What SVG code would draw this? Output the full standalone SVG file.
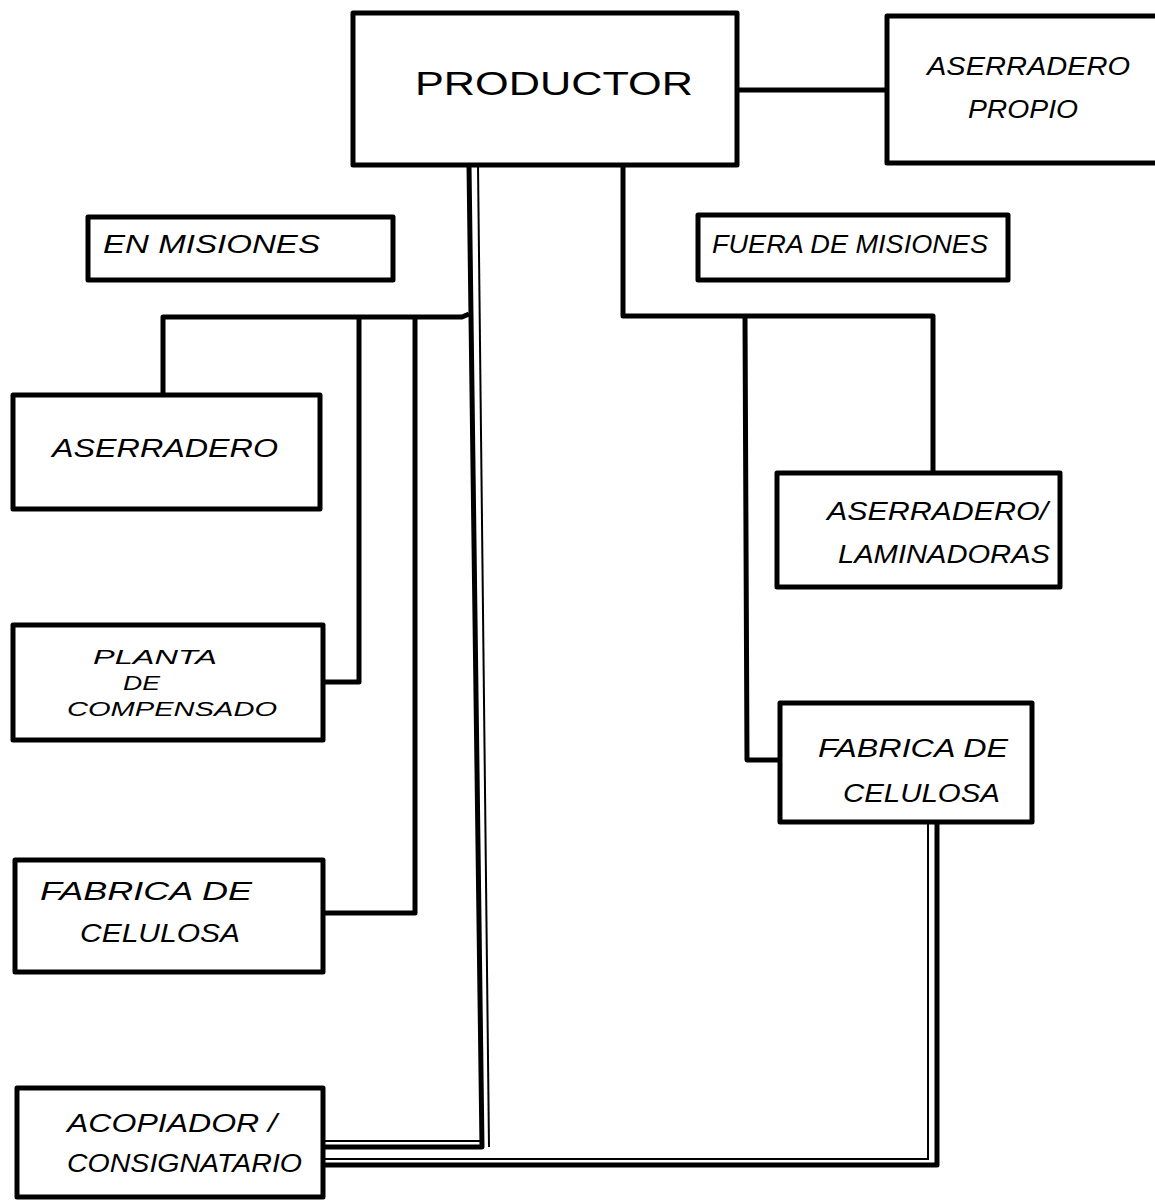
<svg xmlns="http://www.w3.org/2000/svg" width="1155" height="1202" viewBox="0 0 1155 1202">
<style>
.box{fill:#fff;stroke:#000;stroke-width:5;stroke-linejoin:round}
.lbl{font-family:"Liberation Sans",Arial,sans-serif;font-size:26px;fill:#000;font-style:italic}
.big{font-size:33px;font-style:normal}
.sm{font-size:21px}
.c{fill:none;stroke:#000;stroke-width:5;stroke-linejoin:round}
.ct{fill:none;stroke:#000;stroke-width:2}
</style>
<rect width="1155" height="1202" fill="#fff"/>
<g id="connectors">
  <path class="c" d="M737,90 L887,90"/>
  <path class="c" d="M469,165 L482,1147 L323,1147"/>
  <path class="ct" d="M478,165 L489,1147"/>
  <path class="ct" d="M323,1141 L480,1141"/>
  <path class="c" d="M163,395 L163,317 L462,317 L469,314"/>
  <path class="c" d="M359,317 L359,682 L323,682"/>
  <path class="c" d="M415,317 L415,913 L323,913"/>
  <path class="c" d="M623,165 L623,316 L933,316 L933,473"/>
  <path class="c" d="M745,316 L747,760 L780,760"/>
  <path class="c" d="M937,822 L937,1165 L323,1165"/>
  <path class="ct" d="M928,822 L928,1159 L323,1159"/>
</g>
<g id="productor">
  <rect class="box" x="353" y="13" width="384" height="152"/>
  <text class="lbl big" x="415" y="95" textLength="278" lengthAdjust="spacingAndGlyphs">PRODUCTOR</text>
</g>
<g id="aserradero-propio">
  <rect class="box" x="887" y="16" width="275" height="147"/>
  <text class="lbl" x="927" y="75" textLength="203" lengthAdjust="spacingAndGlyphs">ASERRADERO</text>
  <text class="lbl" x="968" y="118" textLength="110" lengthAdjust="spacingAndGlyphs">PROPIO</text>
</g>
<g id="en-misiones">
  <rect class="box" x="88" y="217" width="305" height="63"/>
  <text class="lbl" x="103" y="253" textLength="217" lengthAdjust="spacingAndGlyphs">EN MISIONES</text>
</g>
<g id="fuera-de-misiones">
  <rect class="box" x="698" y="215" width="310" height="65"/>
  <text class="lbl" x="712" y="253" textLength="276" lengthAdjust="spacingAndGlyphs">FUERA DE MISIONES</text>
</g>
<g id="aserradero">
  <rect class="box" x="13" y="395" width="307" height="114"/>
  <text class="lbl" x="52" y="457" textLength="226" lengthAdjust="spacingAndGlyphs">ASERRADERO</text>
</g>
<g id="planta-compensado">
  <rect class="box" x="13" y="625" width="310" height="115"/>
  <text class="lbl sm" x="93" y="664" textLength="124" lengthAdjust="spacingAndGlyphs">PLANTA</text>
  <text class="lbl sm" x="123" y="690" textLength="37" lengthAdjust="spacingAndGlyphs">DE</text>
  <text class="lbl sm" x="67" y="716" textLength="210" lengthAdjust="spacingAndGlyphs">COMPENSADO</text>
</g>
<g id="fabrica-celulosa-misiones">
  <rect class="box" x="15" y="860" width="308" height="112"/>
  <text class="lbl" x="40" y="900" textLength="212" lengthAdjust="spacingAndGlyphs">FABRICA DE</text>
  <text class="lbl" x="80" y="942" textLength="160" lengthAdjust="spacingAndGlyphs">CELULOSA</text>
</g>
<g id="acopiador">
  <rect class="box" x="17" y="1088" width="306" height="109"/>
  <text class="lbl" x="67" y="1132" textLength="210" lengthAdjust="spacingAndGlyphs">ACOPIADOR /</text>
  <text class="lbl" x="67" y="1172" textLength="235" lengthAdjust="spacingAndGlyphs">CONSIGNATARIO</text>
</g>
<g id="aserradero-laminadoras">
  <rect class="box" x="777" y="473" width="283" height="114"/>
  <text class="lbl" x="827" y="520" textLength="221" lengthAdjust="spacingAndGlyphs">ASERRADERO/</text>
  <text class="lbl" x="838" y="563" textLength="212" lengthAdjust="spacingAndGlyphs">LAMINADORAS</text>
</g>
<g id="fabrica-celulosa-fuera">
  <rect class="box" x="780" y="703" width="252" height="119"/>
  <text class="lbl" x="818" y="757" textLength="190" lengthAdjust="spacingAndGlyphs">FABRICA DE</text>
  <text class="lbl" x="843" y="802" textLength="157" lengthAdjust="spacingAndGlyphs">CELULOSA</text>
</g>
</svg>
